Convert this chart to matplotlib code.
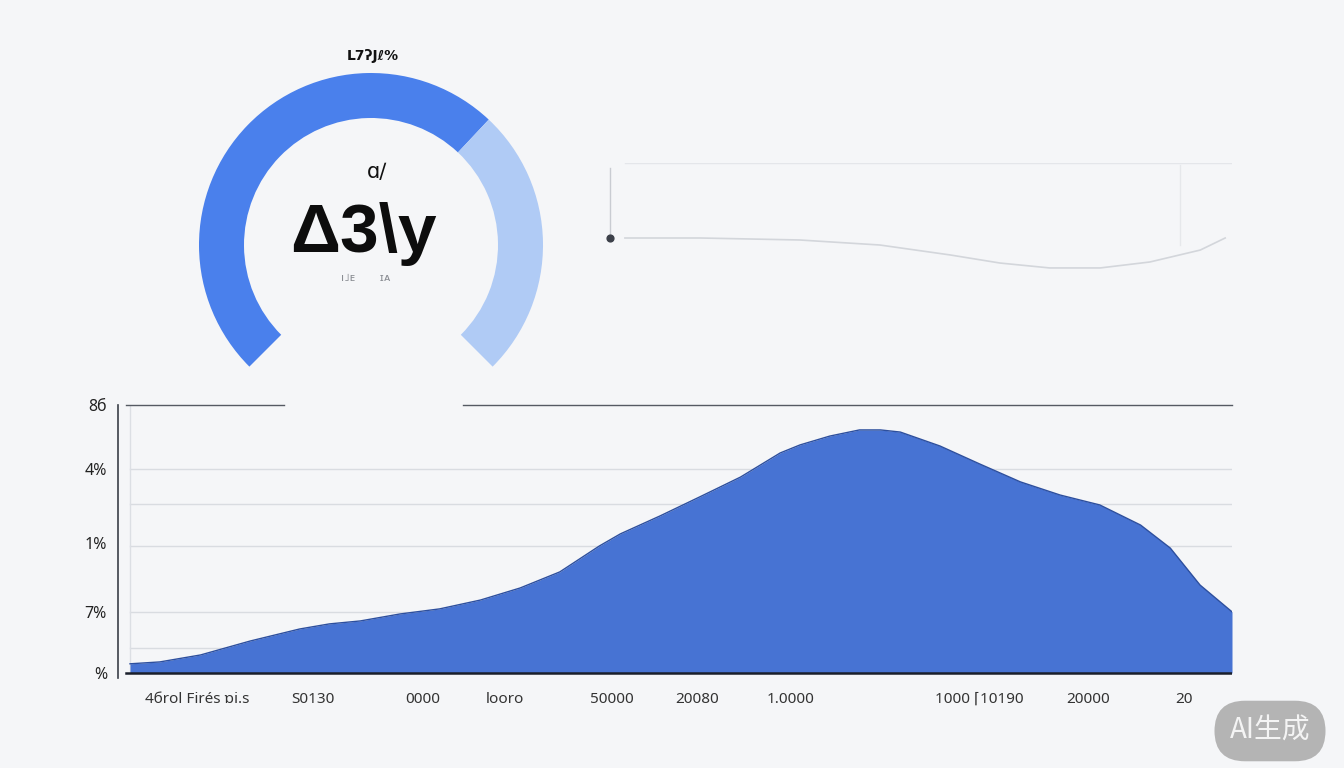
import numpy as np
import matplotlib
matplotlib.use('Agg')
import matplotlib.pyplot as plt
from matplotlib.patches import Wedge

plt.rcParams['font.family'] = ['Noto Sans', 'DejaVu Sans']

# gauge
gauge_value = 66          # percent of the 270 degree arc that is filled
gauge_title = 'L7ʔJℓ%'
gauge_small = 'ɑ∕'
gauge_big = 'Δ3\\y'

# faint line chart (top right)
line_x = [2.4, 14.5, 30.5, 43.4, 54.7, 62.7, 70.7, 78.8, 86.8, 94.9, 98.9]
line_y = [35.9, 35.9, 34.2, 29.9, 21.4, 14.5, 10.3, 10.3, 15.4, 25.6, 35.9]

# area chart
area_x = [0, 2.7, 6.4, 10.9, 15.4, 18.1, 20.9, 24.5, 28.1, 31.8, 35.4, 39.0,
          42.6, 44.5, 48.1, 51.7, 55.4, 59.0, 60.8, 63.5, 66.2, 68.1, 69.9,
          73.5, 77.1, 80.8, 84.4, 88.0, 91.7, 94.4, 97.1, 100]
area_y = [3.4, 4.1, 6.7, 11.9, 16.4, 18.3, 19.4, 22.0, 23.9, 27.2, 31.7, 37.7,
          47.4, 51.9, 58.6, 65.7, 73.1, 82.1, 85.1, 88.4, 90.7, 90.7, 89.9,
          84.7, 78.0, 71.3, 66.4, 62.7, 55.2, 46.6, 32.8, 22.8]
grid_y = [76.1, 63.1, 47.4, 22.8, 9.3]
ytick_pos = [100, 76.1, 48.5, 22.8, 0]
ytick_labels = ['8б', '4%', '1%', '7%', '%']
xtick_pos = [6.1, 16.6, 26.6, 34.0, 43.7, 51.5, 59.9, 77.1, 86.9, 95.6]
xtick_labels = ['4бrol Firés ɒi.s', 'S0130', '0000', 'looro', '50000', '20080',
                '1.0000', '1000 ⌈10190', '20000', '20']

W, H = 1344, 768
bg = '#f5f6f8'
fig = plt.figure(figsize=(W / 100, H / 100), dpi=100, facecolor=bg)


def px_axes(x0, y0, x1, y1):
    # axes placed with pixel coordinates (top-left origin)
    return fig.add_axes([x0 / W, 1 - y1 / H, (x1 - x0) / W, (y1 - y0) / H])


# ---- area chart ----
ax = px_axes(118, 405, 1232, 678)
ax.set_facecolor(bg)
ax.set_xlim(-1.09, 100)
ax.set_ylim(-1.9, 100)
for g in grid_y:
    ax.axhline(g, xmin=0.011, color='#d9dce1', lw=1, zorder=1)
ax.axvline(0, ymin=0.02, color='#dcdfe4', lw=1, zorder=1)
ax.fill_between(area_x, area_y, 0, color='#4773d3', zorder=2, lw=0)
ax.plot(area_x, area_y, color='#2d4f9e', lw=1, zorder=3)
ax.plot([-0.4, 100], [0, 0], color='#1a1f2b', lw=1.8, zorder=4)
# top border, broken where the gauge sits
ax.plot([-0.36, 14.0], [100, 100], color='#555a63', lw=1, zorder=4, clip_on=False)
ax.plot([30.2, 100], [100, 100], color='#555a63', lw=1, zorder=4, clip_on=False)
for s in ['top', 'right', 'bottom']:
    ax.spines[s].set_visible(False)
ax.spines['left'].set_color('#3a3f48')
ax.spines['left'].set_linewidth(1.2)
ax.set_yticks(ytick_pos)
ax.set_yticklabels(ytick_labels, fontsize=11.5, color='#222222')
ax.set_xticks(xtick_pos)
ax.set_xticklabels(xtick_labels, fontsize=11, color='#333333')
ax.tick_params(length=0, pad=10)
ax.tick_params(axis='y', pad=8)

# ---- faint line chart ----
lx = px_axes(610, 163, 1232, 280)
lx.set_xlim(0, 100)
lx.set_ylim(0, 100)
lx.axis('off')
lx.plot([2.4, 100], [100, 100], color='#e4e6ea', lw=1)
lx.plot([0, 0], [36, 96], color='#c9ccd2', lw=1, clip_on=False)
lx.plot([91.6, 91.6], [30, 98], color='#e6e8eb', lw=1)
lx.plot(line_x, line_y, color='#d3d6db', lw=1.2)
lx.scatter([line_x[0] - 2.4], [line_y[0]], s=24, color='#3c4049', zorder=3,
           clip_on=False)

# ---- gauge ----
gx = fig.add_axes([0, 0, 1, 1])
gx.set_xlim(0, W)
gx.set_ylim(H, 0)
gx.axis('off')
cx, cy, r, wdt = 371, 245, 172, 45
start, span = 225, 270
split = start - span * gauge_value / 100
# y axis is inverted, so mirror the angles
gx.add_patch(Wedge((cx, cy), r, -start, -split, width=wdt, color='#4a80ec', lw=0))
gx.add_patch(Wedge((cx, cy), r, -split, -(start - span), width=wdt,
                   color='#b0cbf5', lw=0))
gx.text(cx + 2, 56, gauge_title, ha='center', va='center', fontsize=10,
        fontweight='bold', color='#111111', family=['DejaVu Sans'])
gx.text(cx + 6, 172, gauge_small, ha='center', va='center', fontsize=15,
        color='#111111', family=['DejaVu Sans'])
gx.text(cx - 8, 234, gauge_big, ha='center', va='center', fontsize=50,
        fontweight='bold', color='#0d0d0d', family=['Liberation Sans', 'DejaVu Sans'])
gx.text(cx - 5, 278, 'ı˩ᴇ       ɪᴀ', ha='center', va='center', fontsize=8,
        color='#8a8d93', family=['DejaVu Sans'])

# watermark
gx.text(1270, 731, 'AI生成', ha='center', va='center', fontsize=20,
        color='#f4f4f4', family=['Noto Sans CJK SC', 'DejaVu Sans'],
        bbox=dict(boxstyle='round,pad=0.55,rounding_size=1.1', fc='#b4b4b4', ec='none'))

fig.savefig('out.png', dpi=100, facecolor=bg)
